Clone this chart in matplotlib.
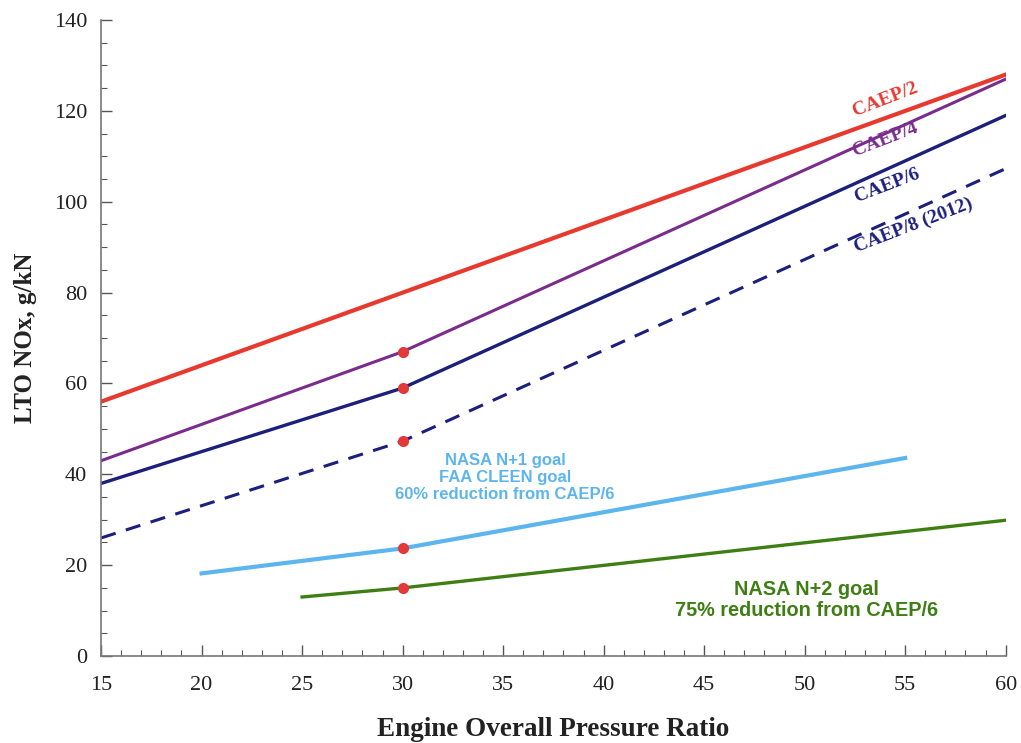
import matplotlib
matplotlib.use("Agg")
import matplotlib.pyplot as plt
from matplotlib.ticker import MultipleLocator

# Data
caep2_x = [15, 30, 60]
caep2_y = [56, 80, 128]
caep4_x = [15, 30, 60]
caep4_y = [43, 67, 127]
caep6_x = [15, 30, 60]
caep6_y = [38, 59, 119]
caep8_x = [15, 30, 60]
caep8_y = [26, 47.3, 107.3]
n1_x = [20, 30, 55]
n1_y = [18.2, 23.7, 43.6]
n2_x = [25, 30, 60]
n2_y = [13, 15, 29.9]
marker_x = [30, 30, 30, 30, 30]
marker_y = [67, 59, 47.3, 23.7, 15]

fig = plt.figure(figsize=(10.21, 7.43), dpi=100)
ax = fig.add_axes([0.099, 0.117, 0.886, 0.856])

ax.plot(caep2_x, caep2_y, color="#e8392f", lw=3)
ax.plot(caep4_x, caep4_y, color="#7a2c8c", lw=2.2)
ax.plot(caep6_x, caep6_y, color="#1c1f7c", lw=2.4)
ax.plot(caep8_x, caep8_y, color="#1c1f7c", lw=2.2, ls=(0, (5, 3.5)))
ax.plot(n1_x, n1_y, color="#5db5ee", lw=3)
ax.plot(n2_x, n2_y, color="#3e7f14", lw=2.4)
ax.plot(marker_x, marker_y, ls="none", marker="o", ms=7, color="#e23a3a", zorder=5)

serif = "Liberation Serif"
rot = 21
ax.text(54.0, 122.6, "CAEP/2", color="#e8392f", fontsize=14, fontweight="bold",
        family=serif, rotation=rot, ha="center", va="center")
ax.text(54.0, 113.6, "CAEP/4", color="#7a2c8c", fontsize=14, fontweight="bold",
        family=serif, rotation=rot, ha="center", va="center")
ax.text(54.1, 103.6, "CAEP/6", color="#1c1f7c", fontsize=14, fontweight="bold",
        family=serif, rotation=rot, ha="center", va="center")
ax.text(55.4, 94.8, "CAEP/8 (2012)", color="#1c1f7c", fontsize=14, fontweight="bold",
        family=serif, rotation=rot, ha="center", va="center")

ax.text(35.1, 39.3, "NASA N+1 goal\nFAA CLEEN goal\n60% reduction from CAEP/6",
        color="#5db5ee", fontsize=12, fontweight="bold", family="Liberation Sans",
        ha="center", va="center", linespacing=1.2)
ax.text(50.1, 12.3, "NASA N+2 goal\n75% reduction from CAEP/6",
        color="#3e7f14", fontsize=14.3, fontweight="bold", family="Liberation Sans",
        ha="center", va="center", linespacing=1.1)

ax.set_xlim(15, 60)
ax.set_ylim(0, 140)
ax.xaxis.set_major_locator(MultipleLocator(5))
ax.xaxis.set_minor_locator(MultipleLocator(1))
ax.yaxis.set_major_locator(MultipleLocator(20))
ax.yaxis.set_minor_locator(MultipleLocator(5))
ax.tick_params(which="both", direction="in", color="#555555")
ax.tick_params(which="major", length=8, width=1)
ax.tick_params(which="minor", length=4, width=0.8)
ax.tick_params(axis="x", pad=14)
ax.tick_params(axis="y", pad=10)
for lab in ax.get_xticklabels() + ax.get_yticklabels():
    lab.set_family(serif)
    lab.set_fontsize(16)
    lab.set_color("#222222")
for s in ["top", "right"]:
    ax.spines[s].set_visible(False)
for s in ["left", "bottom"]:
    ax.spines[s].set_color("#777777")
    ax.spines[s].set_linewidth(1.2)

ax.set_xlabel("Engine Overall Pressure Ratio", family=serif, fontsize=19.5,
              fontweight="bold", labelpad=16, color="#222222")
ax.set_ylabel("LTO NOx, g/kN", family=serif, fontsize=18, fontweight="bold",
              labelpad=12, color="#222222")

fig.savefig("out.png", dpi=100)
